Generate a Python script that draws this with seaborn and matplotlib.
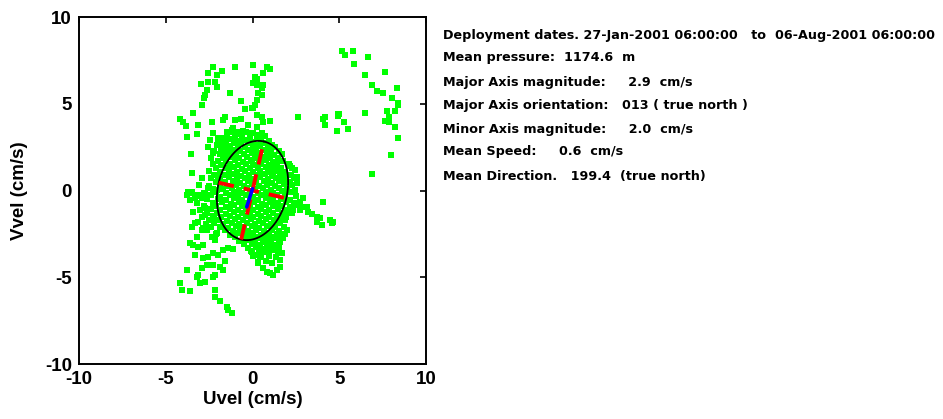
import numpy as np
import pandas as pd
import seaborn as sns
import matplotlib
matplotlib.use('Agg')
import matplotlib.pyplot as plt

# Scattered (outlying) velocity samples, cm/s
out_u = [-2.29, -2.58, -2.06, -1.78, -1.01, 0.01, -2.55, -2.16, -2.97, -2.06, -2.64, -2.74, -2.78,
         -1.30, -0.66, 0.01, -2.93, -0.43, -3.41, -0.01, -4.18, -3.99, -3.85, -3.16, -2.35, -1.59,
         -1.68, -1.01, -0.66, -0.24, -1.11, -3.79, -3.22, -2.26, -1.49, -1.20, -0.91, -0.53, -2.45,
         -1.97, -2.55, -2.06, -1.68, -1.35, -1.01, -0.62, -0.33, -3.54, -2.26, -1.68, -1.24, -1.78,
         -3.50, -1.68, -1.30, -1.97, -0.91,
         0.82, 1.01, 0.59, 0.14, 0.24, 0.05, 0.24, 0.62, 0.53, 0.34, 0.53, 0.24, 0.14, 0.05, 0.24,
         0.53, 0.62, 1.01, 0.24, 2.64, 4.18, 4.08, 4.18, 4.95, 4.85, -0.05, 0.24, 0.53, 0.05, 0.24,
         -0.05, 0.43, 0.72, 1.01, 1.30, 1.59, 1.87, 2.16, 2.45, 2.55, 0.91, 1.20,
         5.18, 5.33, 5.81, 6.64, 5.85, 7.64, 6.48, 6.91, 7.16, 7.54, 8.31, 8.02, 8.40, 8.37, 4.99,
         4.95, 5.29, 6.48, 7.73, 8.21, 7.87, 7.64, 7.87, 5.52, 8.21, 8.37, 7.98, 6.87,
         2.16, 2.55, 2.45, 2.06, 2.93, 2.74, 2.55, 2.93, 3.12, 2.35, 2.74, 2.16, 2.06, 1.78, 1.87,
         1.59, 3.22, 3.41, 3.70, 3.89, 3.70, 3.99, 4.08, 4.47, 4.66, 4.56, 1.78, 1.49, 1.59, 1.49,
         1.68, 1.59, 1.30, 1.01, 1.11, 0.82, 0.34, 0.62, 0.82, 1.01, 1.20, 1.40, 1.59, 0.14, 0.43,
         -0.05, 0.62, 0.05, 0.43, 0.72, 0.91, 1.11, 0.24,
         -3.70, -3.79, -3.50, -3.12, -3.60, -3.31, -2.93, -2.74, -2.55, -2.26, -2.06, -3.41, -3.12,
         -2.74, -2.74, -2.20, -3.50, -2.84, -2.64, -3.22, -3.60, -3.41, -3.12, -2.84, -2.35, -2.06,
         -2.16, -3.31, -2.84, -2.55, -2.26, -1.97, -1.68, -1.39, -1.11, -2.26, -1.87, -1.59, -2.64,
         -2.93, -3.12, -3.22, -3.79, -4.18, -4.08, -3.60, -3.03, -2.74, -2.26, -2.16, -1.68, -2.16,
         -2.16, -1.87, -1.49, -1.39, -1.20]
out_v = [7.14, 6.75, 6.66, 6.91, 7.14, 7.23, 6.27, 6.27, 6.12, 5.98, 5.79, 5.50, 5.31,
         5.64, 5.16, 6.18, 4.93, 4.68, 4.49, 4.74, 4.10, 3.97, 3.72, 3.78, 3.97, 4.25,
         4.06, 4.06, 4.10, 3.78, 3.58, 3.10, 3.26, 3.33, 3.39, 3.49, 3.39, 3.45, 2.91,
         3.01, 2.52, 2.62, 3.01, 2.95, 2.91, 3.10, 2.91, 2.10, 2.14, 2.05, 2.24, 2.49,
         0.99, 1.47, 1.37, 0.80, 0.89,
         7.14, 7.00, 6.79, 6.56, 6.41, 6.18, 6.08, 6.08, 5.89, 5.60, 5.50, 5.22, 4.93, 4.74, 4.35,
         4.22, 3.97, 4.00, 3.68, 4.25, 4.25, 4.12, 3.78, 4.41, 3.45, 3.30, 3.20, 3.30, 2.52, 2.14,
         1.76, 1.86, 1.95, 2.14, 1.47, 1.08, 0.99, 1.41, 1.18, 0.80, 1.08, 0.89,
         8.06, 7.81, 8.06, 7.68, 7.29, 6.85, 6.66, 6.08, 5.73, 5.64, 5.89, 5.35, 5.06, 4.93, 4.41,
         4.29, 3.97, 4.49, 4.60, 4.60, 4.25, 4.02, 3.93, 3.53, 3.68, 3.04, 2.05, 0.93,
         0.51, 0.41, 0.03, -0.07, -0.45, -0.64, -0.84, -0.93, -0.93, -1.12, -1.12, -1.03, -1.31,
         -1.41, -1.70, -1.80, -1.26, -1.37, -1.51, -1.60, -1.80, -1.99, -0.68, -1.70, -1.80, -1.89,
         -2.76, -2.76, -2.95, -3.53, -3.62, -4.01, -3.14, -3.24, -3.43, -3.33, -4.20, -4.49, -4.68,
         -4.77, -4.87, -4.58, -4.39, -3.72, -3.81, -3.53, -3.53, -2.95, -3.14, -2.95, -2.85, -2.66,
         -2.66,
         -0.07, -0.26, -0.16, -0.26, -0.55, -0.45, -0.45, -0.16, 0.13, -0.07, 0.03, -1.22, -1.80,
         -1.03, -1.41, -1.57, -2.09, -2.18, -2.28, -2.66, -3.04, -3.14, -3.24, -3.14, -2.66, -2.47,
         -2.85, -3.72, -3.91, -3.81, -3.62, -3.72, -3.43, -3.33, -3.37, -4.29, -4.39, -4.06, -4.29,
         -4.49, -4.87, -4.97, -4.58, -5.35, -5.73, -5.79, -5.35, -5.25, -4.97, -4.87, -4.58, -5.73,
         -6.12, -6.37, -6.70, -6.89, -7.08]

# Dense core around the origin, read strip by strip: (uvel, vvel) pairs
core_pts = [
    (-1.2, 3.35), (-0.8, 3.25), (-0.35, 3.4), (0.05, 3.3), (0.45, 3.2),
    (-1.45, 3.05), (-1.0, 3.15), (-0.6, 3.0), (-0.15, 3.1), (0.25, 3.05), (0.7, 3.12),
    (-1.7, 2.85), (-1.25, 2.95), (-0.85, 2.88), (-0.4, 2.92), (0.05, 2.82), (0.5, 2.9), (0.95, 2.85),
    (-2.0, 2.7), (-1.5, 2.65), (-1.05, 2.75), (-0.65, 2.68), (-0.2, 2.72), (0.25, 2.65), (0.7, 2.75),
    (1.1, 2.62),
    (-1.8, 2.45), (-1.3, 2.55), (-0.85, 2.48), (-0.45, 2.52), (0.0, 2.45), (0.45, 2.55), (0.9, 2.48),
    (1.3, 2.5),
    (-2.2, 2.3), (-1.6, 2.28), (-1.1, 2.35), (-0.7, 2.25), (-0.25, 2.32), (0.2, 2.27), (0.65, 2.35),
    (1.05, 2.25), (1.5, 2.3),
    (-1.9, 2.1), (-1.4, 2.05), (-0.95, 2.12), (-0.5, 2.08), (-0.05, 2.15), (0.4, 2.05), (0.85, 2.1),
    (1.25, 2.02), (1.7, 2.12),
    (-2.4, 1.9), (-1.7, 1.88), (-1.2, 1.95), (-0.75, 1.85), (-0.3, 1.92), (0.15, 1.87), (0.6, 1.95),
    (1.0, 1.85), (1.45, 1.9),
    (-2.0, 1.7), (-1.5, 1.68), (-1.0, 1.75), (-0.55, 1.65), (-0.1, 1.72), (0.35, 1.67), (0.8, 1.75),
    (1.2, 1.66), (1.75, 1.72),
    (-2.3, 1.5), (-1.8, 1.45), (-1.3, 1.55), (-0.85, 1.48), (-0.4, 1.52), (0.05, 1.45), (0.5, 1.55),
    (0.95, 1.47), (1.4, 1.53), (2.1, 1.5),
    (-2.1, 1.3), (-1.55, 1.27), (-1.05, 1.35), (-0.6, 1.25), (-0.15, 1.32), (0.3, 1.27), (0.75, 1.35),
    (1.15, 1.25), (1.65, 1.32), (2.3, 1.28),
    (-2.5, 1.1), (-1.85, 1.08), (-1.35, 1.15), (-0.9, 1.05), (-0.45, 1.12), (0.0, 1.07), (0.45, 1.15),
    (0.9, 1.05), (1.35, 1.12), (1.9, 1.08),
    (-2.2, 0.9), (-1.6, 0.88), (-1.1, 0.95), (-0.65, 0.85), (-0.2, 0.92), (0.25, 0.87), (0.7, 0.95),
    (1.1, 0.85), (1.6, 0.92), (2.2, 0.88),
    (-2.9, 0.7), (-2.4, 0.72), (-1.85, 0.68), (-1.35, 0.75), (-0.9, 0.65), (-0.45, 0.72), (0.0, 0.67),
    (0.45, 0.75), (0.9, 0.65), (1.35, 0.72), (1.85, 0.68), (2.4, 0.72),
    (-2.1, 0.5), (-1.6, 0.48), (-1.15, 0.55), (-0.7, 0.45), (-0.25, 0.52), (0.2, 0.47), (0.65, 0.55),
    (1.1, 0.45), (1.55, 0.52), (2.05, 0.5),
    (-3.1, 0.3), (-2.5, 0.28), (-1.9, 0.35), (-1.4, 0.25), (-0.95, 0.32), (-0.5, 0.27), (-0.05, 0.35),
    (0.4, 0.25), (0.85, 0.32), (1.3, 0.27), (1.8, 0.35), (2.3, 0.3),
    (-2.3, 0.1), (-1.7, 0.08), (-1.2, 0.15), (-0.75, 0.05), (-0.3, 0.12), (0.15, 0.07), (0.6, 0.15),
    (1.05, 0.05), (1.5, 0.12), (2.0, 0.08),
    (-3.5, -0.1), (-2.8, -0.12), (-2.1, -0.05), (-1.55, -0.15), (-1.05, -0.08), (-0.6, -0.13),
    (-0.15, -0.05), (0.3, -0.15), (0.75, -0.08), (1.2, -0.13), (1.7, -0.05), (2.2, -0.1),
    (-3.0, -0.3), (-2.4, -0.28), (-1.85, -0.35), (-1.3, -0.25), (-0.85, -0.32), (-0.4, -0.27),
    (0.05, -0.35), (0.5, -0.25), (0.95, -0.32), (1.4, -0.27), (1.9, -0.35), (2.5, -0.3),
    (-2.6, -0.5), (-2.0, -0.48), (-1.5, -0.55), (-1.05, -0.45), (-0.6, -0.52), (-0.15, -0.47),
    (0.3, -0.55), (0.75, -0.45), (1.2, -0.52), (1.65, -0.47), (2.15, -0.55),
    (-3.2, -0.7), (-2.3, -0.72), (-1.75, -0.65), (-1.25, -0.75), (-0.8, -0.68), (-0.35, -0.73),
    (0.1, -0.65), (0.55, -0.75), (1.0, -0.68), (1.45, -0.73), (1.95, -0.65), (2.4, -0.72),
    (-2.8, -0.9), (-2.1, -0.88), (-1.55, -0.95), (-1.05, -0.85), (-0.6, -0.92), (-0.15, -0.87),
    (0.3, -0.95), (0.75, -0.85), (1.2, -0.92), (1.7, -0.87), (2.2, -0.95),
    (-3.0, -1.1), (-2.4, -1.08), (-1.85, -1.15), (-1.3, -1.05), (-0.85, -1.12), (-0.4, -1.07),
    (0.05, -1.15), (0.5, -1.05), (0.95, -1.12), (1.45, -1.07), (1.95, -1.15),
    (-2.6, -1.3), (-2.05, -1.28), (-1.55, -1.35), (-1.05, -1.25), (-0.6, -1.32), (-0.15, -1.27),
    (0.3, -1.35), (0.75, -1.25), (1.2, -1.32), (1.7, -1.27), (2.3, -1.3),
    (-2.9, -1.5), (-2.3, -1.48), (-1.8, -1.55), (-1.3, -1.45), (-0.85, -1.52), (-0.4, -1.47),
    (0.05, -1.55), (0.5, -1.45), (0.95, -1.52), (1.4, -1.47), (1.95, -1.55),
    (-2.5, -1.7), (-1.95, -1.68), (-1.45, -1.75), (-1.0, -1.65), (-0.55, -1.72), (-0.1, -1.67),
    (0.35, -1.75), (0.8, -1.65), (1.25, -1.72), (1.7, -1.68),
    (-3.3, -1.9), (-2.7, -1.92), (-2.2, -1.85), (-1.7, -1.95), (-1.2, -1.88), (-0.75, -1.93),
    (-0.3, -1.85), (0.15, -1.95), (0.6, -1.88), (1.05, -1.93), (1.5, -1.85),
    (-2.4, -2.1), (-1.9, -2.08), (-1.4, -2.15), (-0.95, -2.05), (-0.5, -2.12), (-0.05, -2.07),
    (0.4, -2.15), (0.85, -2.05), (1.3, -2.12), (1.8, -2.08),
    (-2.9, -2.3), (-1.6, -2.28), (-1.15, -2.35), (-0.7, -2.25), (-0.25, -2.32), (0.2, -2.27),
    (0.65, -2.35), (1.1, -2.25), (1.55, -2.32), (2.0, -2.3),
    (-2.1, -2.5), (-1.3, -2.55), (-0.85, -2.45), (-0.4, -2.52), (0.05, -2.47), (0.5, -2.55),
    (0.95, -2.45), (1.4, -2.52), (1.85, -2.48),
    (-1.0, -2.7), (-0.55, -2.72), (-0.1, -2.65), (0.35, -2.75), (0.8, -2.68), (1.25, -2.73), (1.7, -2.65),
    (-0.75, -2.9), (-0.3, -2.88), (0.15, -2.95), (0.6, -2.85), (1.05, -2.92), (1.5, -2.87),
    (-0.5, -3.1), (-0.05, -3.08), (0.4, -3.15), (0.85, -3.05), (1.3, -3.12),
    (-0.25, -3.3), (0.2, -3.28), (0.65, -3.35), (1.1, -3.25), (1.5, -3.32),
    (-0.1, -3.5), (0.35, -3.48), (0.8, -3.55), (1.25, -3.45),
    (0.05, -3.8), (0.5, -3.85), (0.95, -3.75), (1.35, -3.82),
    (0.3, -4.1), (0.75, -4.05), (1.15, -4.15),
]

# Summary statistics shown in the text block
deploy_start = '27-Jan-2001 06:00:00'
deploy_end = '06-Aug-2001 06:00:00'
mean_pressure = 1174.6
major_mag = 2.9
major_orient = 13
minor_mag = 2.0
mean_speed = 0.6
mean_dir = 199.4

core_u = [p[0] for p in core_pts]
core_v = [p[1] for p in core_pts]
df = pd.DataFrame({'u': out_u + core_u, 'v': out_v + core_v})

sns.set_style('white')
plt.rcParams['font.family'] = ['Liberation Sans', 'DejaVu Sans']
plt.rcParams['font.weight'] = 'bold'
plt.rcParams['axes.unicode_minus'] = False
# seaborn's white style greys out the text; the original is plain black
for key in ['text.color', 'axes.labelcolor', 'xtick.color', 'ytick.color']:
    plt.rcParams[key] = 'black'

fig = plt.figure(figsize=(9.43, 4.19), dpi=100)
ax = fig.add_axes([79 / 943, 55 / 419, 347 / 943, 347 / 419])

sns.scatterplot(data=df, x='u', y='v', color='#00ff00', marker='s', s=16,
                linewidth=0, ax=ax, zorder=2)

# variance ellipse, orientation measured clockwise from north
th = np.radians(major_orient)
t = np.linspace(0, 2 * np.pi, 200)
ex = major_mag * np.cos(t) * np.sin(th) + minor_mag * np.sin(t) * np.cos(th)
ey = major_mag * np.cos(t) * np.cos(th) - minor_mag * np.sin(t) * np.sin(th)
ax.plot(ex, ey, color='black', lw=1.3, zorder=3)

maj = np.array([np.sin(th), np.cos(th)]) * major_mag
mnr = np.array([np.cos(th), -np.sin(th)]) * minor_mag
ax.plot([-maj[0], maj[0]], [-maj[1], maj[1]], color='red', lw=2.8,
        ls=(0, (4, 2.6)), zorder=4)
ax.plot([-mnr[0], mnr[0]], [-mnr[1], mnr[1]], color='red', lw=2.8,
        ls=(0, (4, 2.6)), zorder=4)

md = np.radians(mean_dir)
ax.plot([0, np.sin(md)], [0.1, np.cos(md)], color='blue', lw=2.6,
        solid_capstyle='round', zorder=5)

ax.set_xlim(-10, 10)
ax.set_ylim(-10, 10)
ax.set_xticks([-10, -5, 0, 5, 10])
ax.set_yticks([-10, -5, 0, 5, 10])
ax.tick_params(direction='in', length=4, width=1.2, top=True, right=True,
               labelsize=13.5, pad=5, colors='black')
for s in ax.spines.values():
    s.set_linewidth(1.4)
    s.set_color('black')
ax.set_xlabel('Uvel (cm/s)', fontsize=13.5, fontweight='bold', labelpad=2)
ax.set_ylabel('Vvel (cm/s)', fontsize=13.5, fontweight='bold', labelpad=12)

lines = [
    f'Deployment dates. {deploy_start}   to  {deploy_end}',
    f'Mean pressure:  {mean_pressure:.1f}  m',
    f'Major Axis magnitude:     {major_mag:.1f}  cm/s',
    f'Major Axis orientation:   {major_orient:03d} ( true north )',
    f'Minor Axis magnitude:     {minor_mag:.1f}  cm/s',
    f'Mean Speed:     {mean_speed:.1f}  cm/s',
    f'Mean Direction.   {mean_dir:.1f}  (true north)',
]
ys = [35, 58, 82, 105, 129, 152, 176]
for txt, py in zip(lines, ys):
    fig.text(443 / 943, 1 - py / 419, txt, fontsize=9.2, fontweight='bold',
             family='DejaVu Sans', color='black', va='center', ha='left')

fig.savefig('out.png', dpi=100)
